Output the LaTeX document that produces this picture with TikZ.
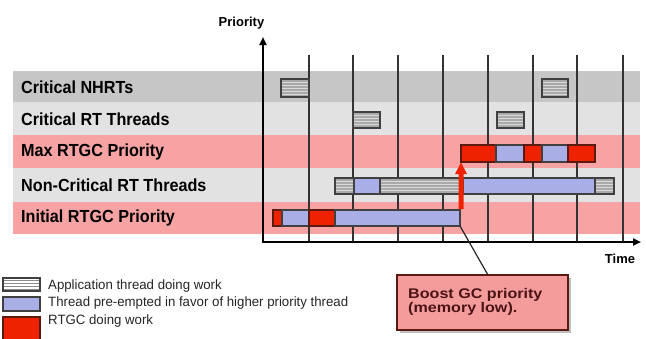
\documentclass[tikz,border=0pt]{standalone}
\usepackage{fontspec}
\setmainfont{Liberation Sans}
\usetikzlibrary{patterns,arrows.meta}
\definecolor{bandgray}{HTML}{C6C6C6}
\definecolor{bandlight}{HTML}{E2E2E2}
\definecolor{bandpink}{HTML}{F7A3A3}
\definecolor{hatchfill}{HTML}{A9A9A9}
\definecolor{hatchline}{HTML}{DADADA}
\definecolor{waitblue}{HTML}{AAAEE6}
\definecolor{gcred}{HTML}{EE2200}
\definecolor{gcedge}{HTML}{5A1A10}
\definecolor{calloutfill}{HTML}{F49C9C}
\definecolor{callouttext}{HTML}{4A1414}
\begin{document}
\begin{tikzpicture}[x=1pt,y=-1pt,
  rowlabel/.style={anchor=west,inner sep=0pt,font=\bfseries\fontsize{17.5}{20}\selectfont,xscale=0.925,text=black},
  gridline/.style={draw=black!80,line width=1.3pt},
  axisline/.style={draw=black,line width=2pt},
  appbox/.style={draw=black!75,line width=1.1pt,preaction={fill=hatchfill},pattern=horizontal lines,pattern color=hatchline},
  legapp/.style={draw=black!75,line width=1.1pt,preaction={fill=white},pattern=horizontal lines,pattern color=black!45},
  waitbox/.style={draw=black!75,line width=1.1pt,fill=waitblue},
  gcbox/.style={draw=gcedge,line width=1.1pt,fill=gcred},
  legtext/.style={anchor=base west,inner sep=0pt,font=\fontsize{13.5}{16}\selectfont,xscale=0.98,text=black!85},
  callouttextstyle/.style={anchor=base west,inner sep=0pt,text=callouttext,font=\bfseries\fontsize{14}{14}\selectfont,xscale=1.15},
  axislabel/.style={inner sep=0pt,font=\bfseries\fontsize{13}{15}\selectfont}]
\useasboundingbox (0,0) rectangle (646,338);
% bands
\fill[bandgray]  (13,71)  rectangle (640,102);
\fill[bandlight] (13,102) rectangle (640,135);
\fill[bandpink]  (13,135) rectangle (640,168);
\fill[bandlight] (13,168) rectangle (640,202);
\fill[bandpink]  (13,202) rectangle (640,234);
% row labels
\node[rowlabel] (l1) at (21,87)  {Critical NHRTs};
\node[rowlabel] (l2) at (21,119) {Critical RT Threads};
\node[rowlabel] (l3) at (21,152) {Max RTGC Priority};
\node[rowlabel] (l4) at (21,185) {Non-Critical RT Threads};
\node[rowlabel] (l5) at (21,218) {Initial RTGC Priority};
% grid lines
\foreach \x in {309,353,398,443,488,533,577,623}
  \draw[gridline] (\x,55) -- (\x,242);
% bars: Critical NHRTs
\draw[appbox] (281,79) rectangle (309,97);
\draw[appbox] (542,79) rectangle (568,97);
% Critical RT
\draw[appbox] (353,112) rectangle (380,128);
\draw[appbox] (497,112) rectangle (524,128);
% Max RTGC
\draw[gcbox]   (461,145) rectangle (496,162);
\draw[waitbox] (496,145) rectangle (524,162);
\draw[gcbox]   (524,145) rectangle (542,162);
\draw[waitbox] (542,145) rectangle (568,162);
\draw[gcbox]   (568,145) rectangle (595,162);
% Non-critical
\draw[appbox]  (335,178) rectangle (354,194);
\draw[waitbox] (354,178) rectangle (380,194);
\draw[appbox]  (380,178) rectangle (463,194);
\draw[waitbox] (463,178) rectangle (595,194);
\draw[appbox]  (595,178) rectangle (614,194);
% Initial RTGC
\draw[gcbox]   (273,210) rectangle (282,226);
\draw[waitbox] (282,210) rectangle (309,226);
\draw[gcbox]   (309,210) rectangle (335,226);
\draw[waitbox] (335,210) rectangle (460,226);
\coordinate (boostpt) at (460,226);
% boost arrow (drawn as a shape)
\fill[gcred] (458.5,209) -- (458.5,174) -- (455,174) -- (461,162.5) -- (467,174) -- (463.5,174) -- (463.5,209) -- cycle;
% axes
\coordinate (ytop) at (263,37);
\coordinate (origin) at (263,242);
\coordinate (xend) at (641,242);
\draw[axisline,{Triangle[length=8pt,width=7pt]}-{Triangle[length=8pt,width=7pt]}] (ytop) -- (origin) -- (xend);
\node[axislabel] (prio) at (241.5,23) {Priority};
\node[axislabel] (time) at (620,259) {Time};
% callout
\fill[black,opacity=0.25] (400,278) rectangle (571,333);
\node[draw=gcedge,line width=1.6pt,fill=calloutfill,
      minimum width=171pt,minimum height=55pt,inner sep=0pt] (callout) at (482.5,302.5) {};
\node[callouttextstyle] (ct1) at (408,298) {Boost GC priority};
\node[callouttextstyle] (ct2) at (408,312) {(memory low).};
\draw[black!85,line width=1.2pt] (callout.north) ++(5pt,0) coordinate (cq) (cq) -- (boostpt);
% legend
\draw[legapp]  (3,278) rectangle (40,291);
\draw[waitbox] (3,297) rectangle (40,311);
\draw[gcbox]   (3,317) rectangle (40,340);
\node[legtext] (t1) at (48,289) {Application thread doing work};
\node[legtext] (t2) at (48,306) {Thread pre-empted in favor of higher priority thread};
\node[legtext] (t3) at (48,324) {RTGC doing work};
\end{tikzpicture}
\end{document}
